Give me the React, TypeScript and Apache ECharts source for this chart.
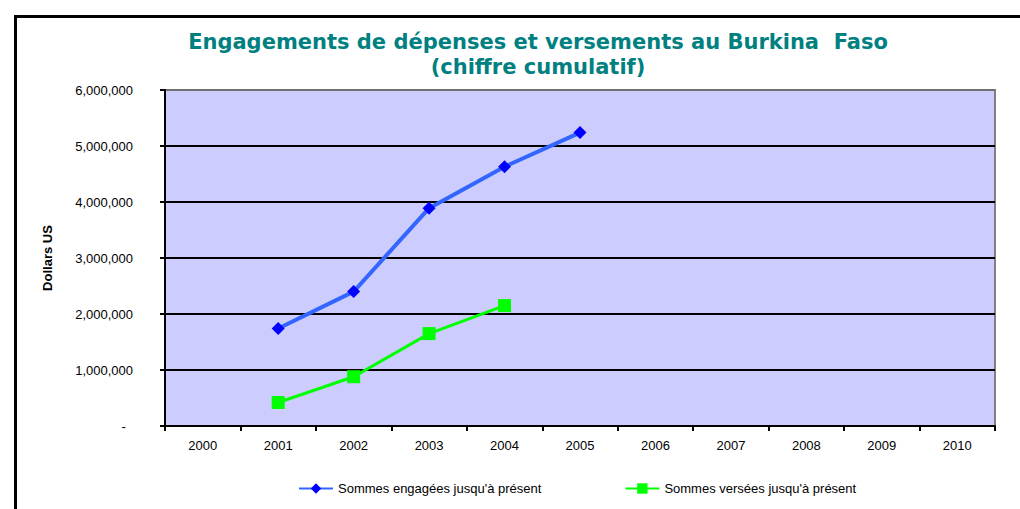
import React, { useEffect, useRef } from "react";
import * as echarts from "echarts";

const years = ["2000", "2001", "2002", "2003", "2004", "2005", "2006", "2007", "2008", "2009", "2010"];
const engaged = [null, 1740000, 2400000, 3890000, 4630000, 5240000, null, null, null, null, null];
const paid = [null, 420000, 880000, 1650000, 2150000, null, null, null, null, null, null];
const seriesNames = ["Sommes engagées jusqu'à présent", "Sommes versées jusqu'à présent"];
const titleText = "Engagements de dépenses et versements au Burkina  Faso\n(chiffre cumulatif)";
const yAxisName = "Dollars US";

export default function App() {
  const ref = useRef<HTMLDivElement>(null);
  useEffect(() => {
    const chart = echarts.init(ref.current!, null, { renderer: "svg" });
    const font = "Liberation Sans, Arial, sans-serif";
    chart.setOption({
      animation: false,
      backgroundColor: "#ffffff",
      graphic: [
        {
          type: "rect",
          left: 13,
          top: 14,
          shape: { width: 1100, height: 600 },
          style: { fill: "none", stroke: "#000", lineWidth: 3 },
          silent: true,
          z: 100,
        },
      ],
      title: {
        text: titleText,
        left: 533,
        top: 24,
        textAlign: "center",
        textStyle: {
          fontFamily: "DejaVu Sans, Verdana, sans-serif",
          fontWeight: "bold",
          fontSize: 21,
          color: "#008080",
          lineHeight: 25,
        },
      },
      legend: {
        left: 293,
        top: 477,
        itemWidth: 34,
        itemHeight: 13,
        itemGap: 83,
        textStyle: { fontFamily: font, fontSize: 13, color: "#000" },
        data: seriesNames,
      },
      grid: {
        left: 165,
        right: 25,
        top: 90,
        bottom: 83,
        show: true,
        backgroundColor: "#ccccff",
        borderColor: "#808080",
        borderWidth: 2,
      },
      xAxis: {
        type: "category",
        data: years,
        boundaryGap: true,
        axisLine: { show: true, lineStyle: { color: "#000", width: 2 } },
        axisTick: { show: true, alignWithLabel: false, length: 5, lineStyle: { color: "#000", width: 2 } },
        axisLabel: { fontFamily: font, fontSize: 13, color: "#000", margin: 13 },
        splitLine: { show: false },
      },
      yAxis: {
        type: "value",
        min: 0,
        max: 6000000,
        interval: 1000000,
        name: yAxisName,
        nameLocation: "middle",
        nameGap: 111,
        nameTextStyle: { fontFamily: font, fontSize: 13, fontWeight: "bold", color: "#000" },
        axisLine: { show: true, lineStyle: { color: "#000", width: 2 } },
        axisTick: { show: true, length: 5, lineStyle: { color: "#000", width: 2 } },
        axisLabel: {
          fontFamily: font,
          fontSize: 13,
          color: "#000",
          margin: 32,
          formatter: (v: number) => (v === 0 ? "-  " : v.toLocaleString("en-US")),
        },
        splitLine: {
          show: true,
          lineStyle: { color: ["#000", "#000", "#000", "#000", "#000", "#000", "#707070"], width: 2 },
        },
      },
      series: [
        {
          name: seriesNames[0],
          type: "line",
          data: engaged,
          symbol: "diamond",
          symbolSize: 13,
          lineStyle: { color: "#3366ff", width: 4 },
          itemStyle: { color: "#0000ff" },
          z: 3,
        },
        {
          name: seriesNames[1],
          type: "line",
          data: paid,
          symbol: "rect",
          symbolSize: 13,
          lineStyle: { color: "#00ff00", width: 3 },
          itemStyle: { color: "#00ff00" },
          z: 2,
        },
      ],
    });
    return () => chart.dispose();
  }, []);
  return (
    <div
      ref={ref}
      style={{ position: "absolute", left: 0, top: 0, width: 1020, height: 509 }}
    />
  );
}
